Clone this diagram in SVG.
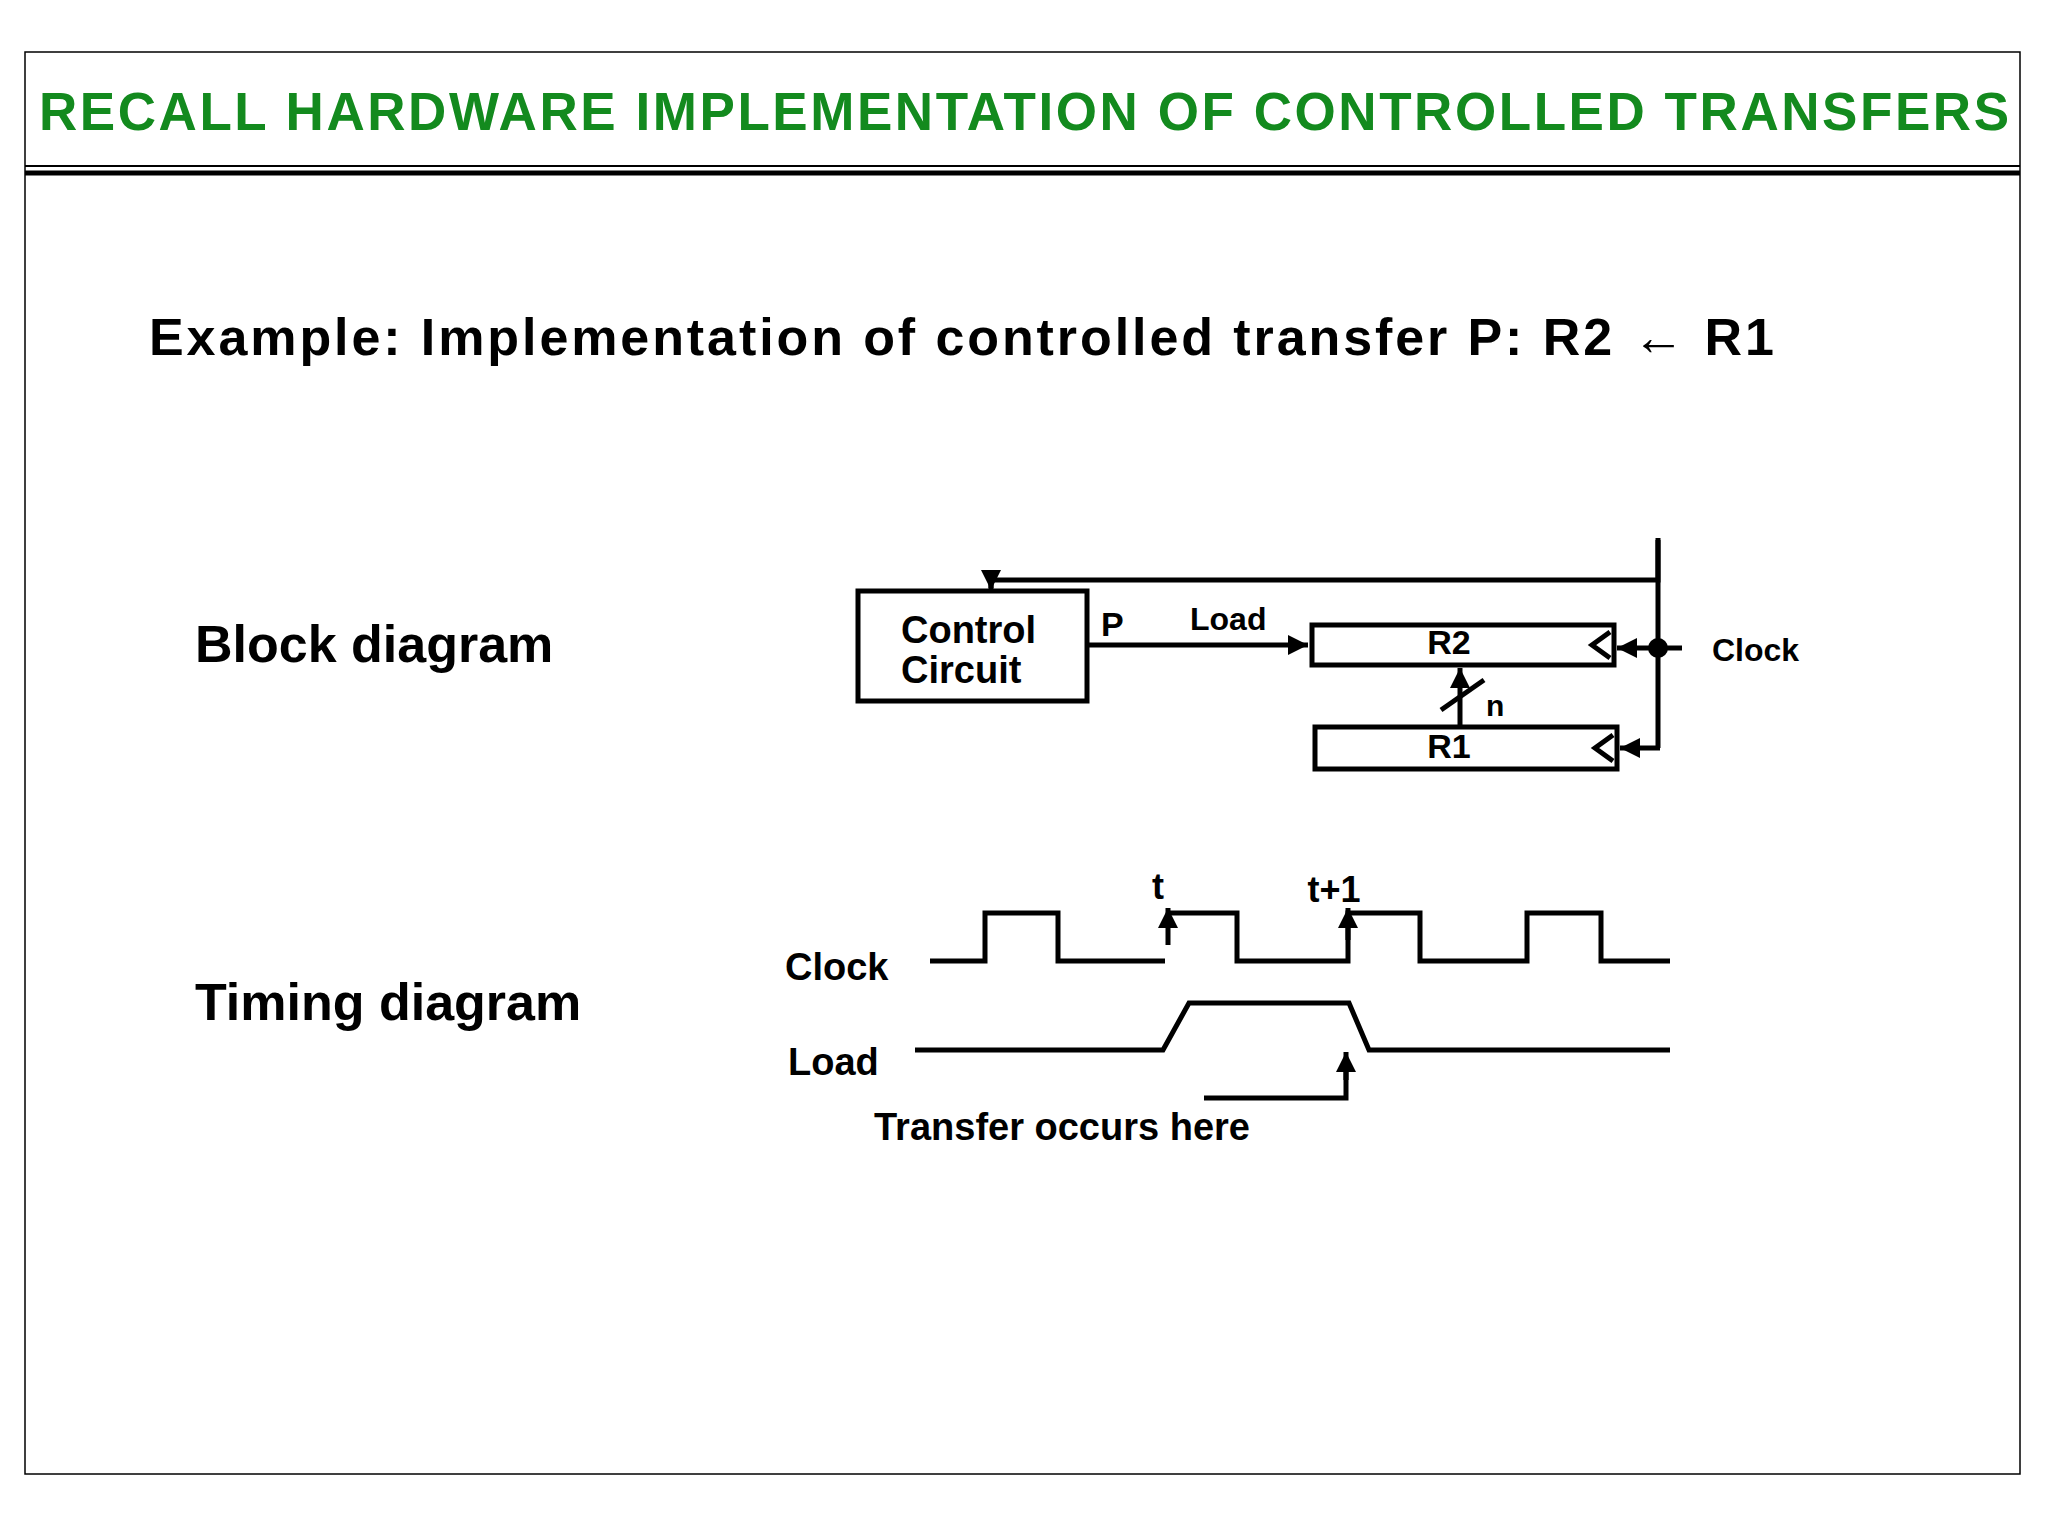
<svg xmlns="http://www.w3.org/2000/svg" width="2048" height="1536" viewBox="0 0 2048 1536">
<defs>
<style>
text{font-family:"Liberation Sans",Arial,sans-serif;font-weight:bold;fill:#000}
.w{fill:none;stroke:#000;stroke-width:5}
.b{fill:#fff;stroke:#000;stroke-width:5}
</style>
<marker id="a" viewBox="0 0 10 10" refX="10" refY="5" markerWidth="4" markerHeight="4" orient="auto" markerUnits="strokeWidth"><path d="M0,0L10,5L0,10z" fill="#000"/></marker>
</defs>
<rect width="2048" height="1536" fill="#fff"/>
<rect x="25" y="52" width="1995" height="1422" fill="none" stroke="#000" stroke-width="1.5"/>
<line x1="25" y1="166" x2="2020" y2="166" stroke="#000" stroke-width="2"/>
<line x1="25" y1="173" x2="2020" y2="173" stroke="#000" stroke-width="5"/>
<text x="1024" y="130" font-size="53" text-anchor="middle" style="fill:#138a1e" textLength="1970">RECALL HARDWARE IMPLEMENTATION OF CONTROLLED TRANSFERS</text>
<text x="149" y="355" font-size="52" textLength="1625">Example: Implementation of controlled transfer  P:  R2 ← R1</text>
<text x="195" y="662" font-size="52">Block diagram</text>
<text x="195" y="1020" font-size="52">Timing diagram</text>
<g id="control"><rect class="b" x="858" y="591" width="229" height="110"/>
<text x="901" y="643" font-size="38">Control</text><text x="901" y="683" font-size="38">Circuit</text></g>
<g id="r2"><rect class="b" x="1312" y="625" width="302" height="40"/><text x="1449" y="654" font-size="34" text-anchor="middle">R2</text><path class="w" d="M1610,632L1592,645L1610,658"/></g>
<g id="r1"><rect class="b" x="1315" y="727" width="302" height="42"/><text x="1449" y="758" font-size="34" text-anchor="middle">R1</text><path class="w" d="M1613,735L1595,748L1613,761"/></g>
<g id="labels">
<text x="1101" y="636" font-size="34">P</text>
<text x="1190" y="630" font-size="32">Load</text>
<text x="1712" y="661" font-size="32">Clock</text>
<text x="1486" y="716" font-size="30">n</text>
</g>
<g id="connectors">
<line class="w" x1="1087" y1="645" x2="1308" y2="645" marker-end="url(#a)"/>
<polyline class="w" points="1658,538 1658,580 991,580 991,588" />
<line class="w" x1="991" y1="578" x2="991" y2="590" marker-end="url(#a)"/>
<line class="w" x1="1658" y1="540" x2="1658" y2="748"/>
<line class="w" x1="1682" y1="648" x2="1658" y2="648"/>
<circle cx="1658" cy="648" r="10" fill="#000"/>
<line class="w" x1="1658" y1="648" x2="1617" y2="648" marker-end="url(#a)"/>
<line class="w" x1="1660" y1="748" x2="1620" y2="748" marker-end="url(#a)"/>
<line class="w" x1="1460" y1="727" x2="1460" y2="668" marker-end="url(#a)"/>
<line class="w" x1="1441" y1="710" x2="1484" y2="680"/>
</g>
<g id="timing">
<text x="785" y="980" font-size="38">Clock</text>
<text x="788" y="1075" font-size="38">Load</text>
<text x="1152" y="899" font-size="36">t</text>
<text x="1334" y="902" font-size="36" text-anchor="middle">t+1</text>
<text x="874" y="1140" font-size="38">Transfer occurs here</text>
<polyline class="w" points="930,961 985,961 985,913 1058,913 1058,961 1165,961"/>
<polyline class="w" points="1168,913 1237,913 1237,961 1348,961 1348,913 1420,913 1420,961 1527,961 1527,913 1601,913 1601,961 1670,961"/>
<line class="w" x1="1168" y1="945" x2="1168" y2="908" marker-end="url(#a)"/>
<line class="w" x1="1348" y1="940" x2="1348" y2="908" marker-end="url(#a)"/>
<polyline class="w" points="915,1050 1163,1050 1189,1003 1349,1003 1369,1050 1670,1050"/>
<polyline class="w" points="1204,1098 1346,1098 1346,1058" />
<line class="w" x1="1346" y1="1080" x2="1346" y2="1052" marker-end="url(#a)"/>
</g>
</svg>
